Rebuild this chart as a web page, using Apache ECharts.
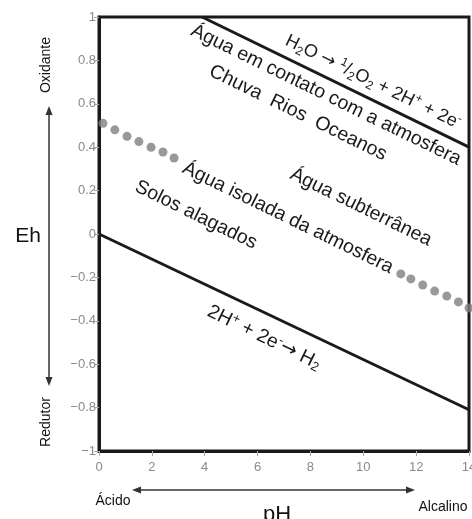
<!DOCTYPE html>
<html>
<head>
<meta charset="utf-8">
<script src="https://cdn.jsdelivr.net/npm/echarts@6/dist/echarts.min.js"></script>
<style>
  html, body { margin: 0; padding: 0; background: #ffffff; }
  #chart { width: 472px; height: 519px; }
</style>
</head>
<body>
<div id="chart"></div>
<script>
// Axis ranges and tick labels
const phMin = 0, phMax = 14, phStep = 2;
const ehMin = -1, ehMax = 1, ehStep = 0.2;
const ehTickValues = [-1, -0.8, -0.6, -0.4, -0.2, 0, 0.2, 0.4, 0.6, 0.8, 1];
const ehTickLabels = ['\u22121', '\u22120.8', '\u22120.6', '\u22120.4', '\u22120.2', '0', '0.2', '0.4', '0.6', '0.8', '1'];

// Upper stability limit of water: H2O -> 1/2 O2 + 2H+ + 2e-
const oxygenLinePH = [3.9, 14];
const oxygenLineEh = [1, 0.40];

// Lower stability limit of water: 2H+ + 2e- -> H2
const hydrogenLinePH = [0, 14];
const hydrogenLineEh = [0, -0.81];

// Dotted boundary between aerated and isolated water (two visible runs)
const boundaryLeftPH = [0.15, 0.60, 1.06, 1.51, 1.97, 2.42, 2.84];
const boundaryLeftEh = [0.51, 0.48, 0.45, 0.426, 0.40, 0.378, 0.35];
const boundaryRightPH = [11.42, 11.80, 12.25, 12.70, 13.16, 13.60, 14.0];
const boundaryRightEh = [-0.184, -0.207, -0.235, -0.263, -0.286, -0.313, -0.341];

// Region annotations: text and anchor (pH, Eh)
const regionTexts = ['Água em contato com a atmosfera', 'Chuva  Rios  Oceanos', 'Água subterrânea', 'Água isolada da atmosfera', 'Solos alagados'];
const regionPH = [8.59, 7.53, 9.91, 7.15, 3.67];
const regionEh = [0.64, 0.558, 0.124, 0.074, 0.088];

// Reaction labels (rich text), anchors (pH, Eh) and sizes
const reactionTexts = [
  '{n|H}{sub|2}{n|O }{ar|\u2192}{n| }{sup|1}{n|/}{sub|2}{n|O}{sub|2}{n| + 2H}{sup|+}{n| + 2e}{sup|-}',
  '{n|2H}{sup|+}{n| + 2e}{sup|-}{ar|\u2192}{n| H}{sub|2}'
];
const reactionPH = [10.37, 6.25];
const reactionEh = [0.70, -0.477];
const reactionSize = [18, 19.5];

const pairs = (xs, ys) => xs.map((x, i) => [x, ys[i]]);

const FONT = '"Liberation Sans", Arial, Helvetica, sans-serif';
const INK = '#1a1a1a';

const chart = echarts.init(document.getElementById('chart'), null, { renderer: 'canvas' });

chart.setOption({
  animation: false,
  backgroundColor: '#ffffff',
  grid: {
    left: 99, right: 3, top: 17, bottom: 68,
    outerBoundsMode: 'none', containLabel: false,
    show: true, borderColor: INK, borderWidth: 3, backgroundColor: 'transparent'
  },
  xAxis: {
    type: 'value', min: phMin, max: phMax, interval: phStep,
    axisLine: { show: true, onZero: false, lineStyle: { color: INK, width: 3 } },
    axisTick: { show: true, length: 5, lineStyle: { color: '#aaaaaa', width: 1 } },
    axisLabel: { color: '#8a8a8a', fontSize: 13, fontFamily: FONT, margin: 10 },
    splitLine: { show: false }
  },
  yAxis: {
    type: 'value', min: ehMin, max: ehMax, interval: ehStep,
    axisLine: { show: true, onZero: false, lineStyle: { color: INK, width: 3 } },
    axisTick: { show: true, length: 5, lineStyle: { color: '#aaaaaa', width: 1 } },
    axisLabel: {
      color: '#8a8a8a', fontSize: 13, fontFamily: FONT, margin: 3,
      formatter: v => {
        const i = ehTickValues.findIndex(t => Math.abs(t - v) < 1e-6);
        return i >= 0 ? ehTickLabels[i] : '';
      }
    },
    splitLine: { show: false }
  },
  series: [
    {
      type: 'line', data: pairs(oxygenLinePH, oxygenLineEh), symbol: 'none',
      lineStyle: { color: INK, width: 3 }, z: 3
    },
    {
      type: 'line', data: pairs(hydrogenLinePH, hydrogenLineEh), symbol: 'none',
      lineStyle: { color: INK, width: 3 }, z: 3
    },
    {
      type: 'scatter', data: pairs(boundaryLeftPH, boundaryLeftEh), symbolSize: 9,
      itemStyle: { color: '#808080' }, z: 2
    },
    {
      type: 'scatter', data: pairs(boundaryRightPH, boundaryRightEh), symbolSize: 9,
      itemStyle: { color: '#808080' }, z: 2
    }
  ]
});

// Slope of the water-stability lines in screen space sets the label angle
const pA = chart.convertToPixel({ gridIndex: 0 }, [oxygenLinePH[0], oxygenLineEh[0]]);
const pB = chart.convertToPixel({ gridIndex: 0 }, [oxygenLinePH[1], oxygenLineEh[1]]);
const angle = -Math.atan2(pB[1] - pA[1], pB[0] - pA[0]);

const graphics = [];

regionTexts.forEach((t, i) => {
  const p = chart.convertToPixel({ gridIndex: 0 }, [regionPH[i], regionEh[i]]);
  graphics.push({
    type: 'text', x: p[0], y: p[1], rotation: angle, z: 10,
    style: { text: t, fill: INK, font: '19.5px ' + FONT, align: 'center', verticalAlign: 'middle' }
  });
});

reactionTexts.forEach((t, i) => {
  const p = chart.convertToPixel({ gridIndex: 0 }, [reactionPH[i], reactionEh[i]]);
  const fs = reactionSize[i];
  const small = Math.round(fs * 0.66);
  graphics.push({
    type: 'text', x: p[0], y: p[1], rotation: angle, z: 10,
    style: {
      text: t, align: 'center', verticalAlign: 'middle',
      rich: {
        n: { fontSize: fs, fontFamily: FONT, fill: INK, lineHeight: 22, verticalAlign: 'middle' },
        ar: { fontSize: fs, fontFamily: '"DejaVu Sans", sans-serif', fill: INK, lineHeight: 22, verticalAlign: 'middle' },
        sub: { fontSize: small, fontFamily: FONT, fill: INK, lineHeight: 12, verticalAlign: 'bottom' },
        sup: { fontSize: small, fontFamily: FONT, fill: INK, lineHeight: 12, verticalAlign: 'top' }
      }
    }
  });
});

// Axis titles and direction arrows
const arrowColor = '#333333';
graphics.push(
  { type: 'text', x: 28, y: 236, style: { text: 'Eh', font: '21px ' + FONT, fill: '#111', align: 'center', verticalAlign: 'middle' } },
  { type: 'text', x: 46, y: 65, rotation: Math.PI / 2, style: { text: 'Oxidante', font: '14px ' + FONT, fill: '#111', align: 'center', verticalAlign: 'middle' } },
  { type: 'text', x: 46, y: 422, rotation: Math.PI / 2, style: { text: 'Redutor', font: '14px ' + FONT, fill: '#111', align: 'center', verticalAlign: 'middle' } },
  { type: 'line', shape: { x1: 49, y1: 112, x2: 49, y2: 380 }, style: { stroke: arrowColor, lineWidth: 1.5 } },
  { type: 'polygon', shape: { points: [[49, 106], [45.5, 115], [52.5, 115]] }, style: { fill: arrowColor } },
  { type: 'polygon', shape: { points: [[49, 386], [45.5, 377], [52.5, 377]] }, style: { fill: arrowColor } },
  { type: 'line', shape: { x1: 138, y1: 490, x2: 409, y2: 490 }, style: { stroke: arrowColor, lineWidth: 1.5 } },
  { type: 'polygon', shape: { points: [[132, 490], [141, 486.5], [141, 493.5]] }, style: { fill: arrowColor } },
  { type: 'polygon', shape: { points: [[415, 490], [406, 486.5], [406, 493.5]] }, style: { fill: arrowColor } },
  { type: 'text', x: 113, y: 501, style: { text: 'Ácido', font: '14px ' + FONT, fill: '#111', align: 'center', verticalAlign: 'middle' } },
  { type: 'text', x: 443, y: 507, style: { text: 'Alcalino', font: '14px ' + FONT, fill: '#111', align: 'center', verticalAlign: 'middle' } },
  { type: 'text', x: 277, y: 515, style: { text: 'pH', font: '22px ' + FONT, fill: '#111', align: 'center', verticalAlign: 'middle' } }
);

chart.setOption({ graphic: graphics });
</script>
</body>
</html>
